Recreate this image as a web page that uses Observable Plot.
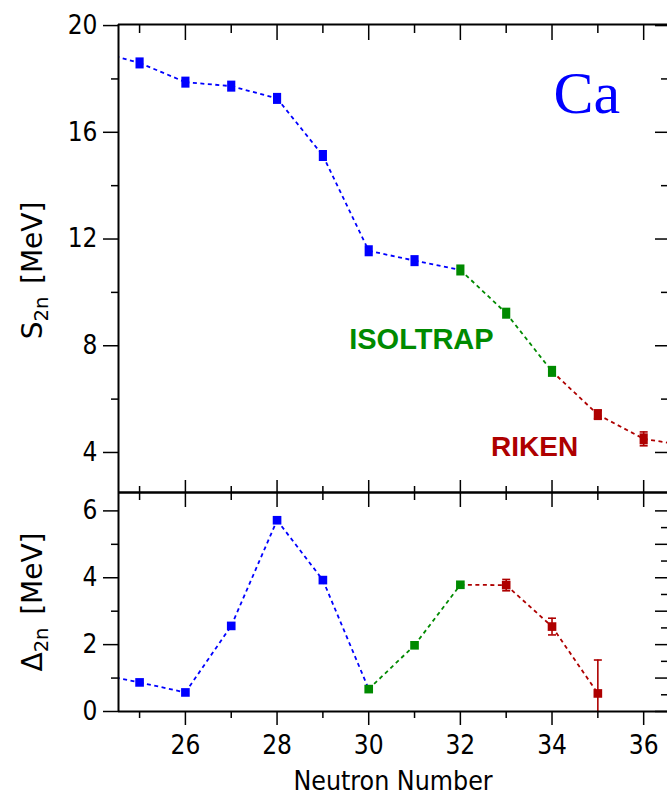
<!DOCTYPE html>
<html>
<head>
<meta charset="utf-8">
<script src="https://cdn.jsdelivr.net/npm/d3@7"></script>
<script src="https://cdn.jsdelivr.net/npm/@observablehq/plot@0.6"></script>
<style>
  html, body { margin: 0; padding: 0; background: #fff; }
  #chart { position: relative; width: 667px; height: 795px; overflow: hidden; }
  #chart svg { position: absolute; left: 0; overflow: visible; background: transparent; }
</style>
</head>
<body>
<div id="chart"></div>
<script>
// Two-neutron separation energies of the calcium isotopes (MeV)
const s2nN      = [24, 25, 26, 27, 28, 29, 30, 31, 32, 33, 34, 35, 36, 37];
const s2nValue  = [19.07, 18.60, 17.88, 17.73, 17.27, 15.13, 11.56, 11.19, 10.84, 9.22, 7.04, 5.42, 4.51, 4.24];
const s2nError  = [0, 0, 0, 0, 0, 0, 0, 0, 0, 0, 0, 0.15, 0.26, 1.0];
const s2nSource = ["AME", "AME", "AME", "AME", "AME", "AME", "AME", "AME",
                   "ISOLTRAP", "ISOLTRAP", "ISOLTRAP", "RIKEN", "RIKEN", "RIKEN"];

// Empirical shell gap  Δ2n(N) = S2n(N) - S2n(N+2)  (MeV)
const d2nN      = [24, 25, 26, 27, 28, 29, 30, 31, 32, 33, 34, 35];
const d2nValue  = [1.15, 0.87, 0.57, 2.56, 5.72, 3.93, 0.67, 1.98, 3.79, 3.78, 2.54, 0.54];
const d2nError  = [0, 0, 0, 0, 0, 0, 0, 0, 0, 0.17, 0.25, 1.0];
const d2nSource = ["AME", "AME", "AME", "AME", "AME", "AME",
                   "ISOLTRAP", "ISOLTRAP", "ISOLTRAP", "RIKEN", "RIKEN", "RIKEN"];

const sourceColor = {AME: "#0000ff", ISOLTRAP: "#008a00", RIKEN: "#ae0000"};

// Axis ticks
const xDomain       = [24.54, 36.52];
const xMajorTicks   = [26, 28, 30, 32, 34, 36];
const xMinorTicks   = [25, 27, 29, 31, 33, 35];
const s2nDomain     = [2.5, 20.04];
const s2nMajorTicks = [4, 8, 12, 16, 20];
const s2nMinorTicks = [6, 10, 14, 18];
const d2nDomain     = [0, 6.55];
const d2nMajorTicks = [0, 2, 4, 6];
const d2nMinorTicks = [1, 3, 5];
const d2nRightMajor = [0, 1, 2, 3, 4, 5, 6];
const d2nRightMinor = [0.5, 1.5, 2.5, 3.5, 4.5, 5.5];

// In-plot labels: facility names and the element
const labelText  = ["ISOLTRAP", "RIKEN", "Ca"];
const labelN     = [31.15, 33.62, 34.76];
const labelValue = [8.23, 4.19, 17.45];

const W = 667, marginLeft = 118, frameW = W - marginLeft;
const axisFont = "DejaVu Sans Condensed";
const titleFont = "DejaVu Sans";

function pointsOf(Ns, values, errors, sources) {
  return Ns.map((n, i) => ({N: n, v: values[i], e: errors[i], color: sourceColor[sources[i]]}));
}

// Consecutive points are joined by dashed segments; a segment touching a RIKEN
// point is red, one lying wholly within ISOLTRAP data is green, otherwise blue.
function segmentsOf(Ns, values, sources) {
  return d3.pairs(d3.range(Ns.length), (i, j) => {
    const a = sources[i], b = sources[j];
    const src = (a === "RIKEN" || b === "RIKEN") ? "RIKEN"
              : (a === "ISOLTRAP" && b === "ISOLTRAP") ? "ISOLTRAP" : "AME";
    return {x1: Ns[i], y1: values[i], x2: Ns[j], y2: values[j], color: sourceColor[src]};
  });
}

// Marker shapes
const tallSquare = {draw(ctx, size) {
  const r = Math.sqrt(size / Math.PI), w = r * 0.85, h = r * 1.15;
  ctx.rect(-w, -h, 2 * w, 2 * h);
}};
const square = {draw(ctx, size) {
  const r = Math.sqrt(size / Math.PI), w = r * 0.9;
  ctx.rect(-w, -w, 2 * w, 2 * w);
}};
const capLine = {draw(ctx, size) {
  const r = Math.sqrt(size / Math.PI);
  ctx.moveTo(-r, 0); ctx.lineTo(r, 0);
}};

function dataMarks(points, segments, symbol) {
  const withErr = points.filter(d => d.e > 0);
  return [
    Plot.link(segments, {x1: "x1", y1: "y1", x2: "x2", y2: "y2", stroke: "color",
      strokeWidth: 1.8, strokeDasharray: "4,3.5", clip: true}),
    Plot.ruleX(withErr, {x: "N", y1: d => d.v - d.e, y2: d => d.v + d.e, stroke: "color",
      strokeWidth: 1.6, clip: true}),
    Plot.dot(withErr, {x: "N", y: d => d.v + d.e, symbol: capLine, r: 4, stroke: "color",
      fill: "none", strokeWidth: 1.6, clip: true}),
    Plot.dot(withErr, {x: "N", y: d => d.v - d.e, symbol: capLine, r: 4, stroke: "color",
      fill: "none", strokeWidth: 1.6, clip: true}),
    Plot.dot(points, {x: "N", y: "v", symbol, r: 4.8, fill: "color", stroke: null, clip: true})
  ];
}

const tickStyle = {stroke: "black", strokeWidth: 1.5};

// ---- Upper panel: S2n ----
const topH = 493, topMarginTop = 24, topMarginBottom = 1;
const topFrameH = topH - topMarginTop - topMarginBottom;
const s2nPoints = pointsOf(s2nN, s2nValue, s2nError, s2nSource);
const labels = labelText.map((t, i) => ({text: t, N: labelN[i], v: labelValue[i]}));

const topPlot = Plot.plot({
  width: W, height: topH,
  marginTop: topMarginTop, marginBottom: topMarginBottom, marginLeft, marginRight: 0,
  x: {domain: xDomain, axis: null},
  y: {domain: s2nDomain},
  color: {type: "identity"},
  style: {fontFamily: axisFont, background: "transparent", overflow: "visible"},
  marks: [
    ...dataMarks(s2nPoints, segmentsOf(s2nN, s2nValue, s2nSource), tallSquare),
    Plot.text(labels.filter(d => d.text === "ISOLTRAP"), {x: "N", y: "v", text: "text",
      fill: sourceColor.ISOLTRAP, fontFamily: "Liberation Sans", fontWeight: "bold", fontSize: 29}),
    Plot.text(labels.filter(d => d.text === "RIKEN"), {x: "N", y: "v", text: "text",
      fill: sourceColor.RIKEN, fontFamily: "Liberation Sans", fontWeight: "bold", fontSize: 28}),
    Plot.text(labels.filter(d => d.text === "Ca"), {x: "N", y: "v", text: "text",
      fill: "#0000ff", fontFamily: "Liberation Serif", fontSize: 60}),
    // frame lines
    Plot.ruleY([s2nDomain[1]], {stroke: "black", strokeWidth: 2}),
    Plot.ruleY([s2nDomain[0]], {stroke: "black", strokeWidth: 2}),
    Plot.ruleX([xDomain[0]], {stroke: "black", strokeWidth: 2}),
    // top edge: inward ticks
    Plot.tickX(xMajorTicks, {x: d => d, insetBottom: topFrameH - 16, ...tickStyle}),
    Plot.tickX(xMinorTicks, {x: d => d, insetBottom: topFrameH - 9, ...tickStyle}),
    // bottom edge: inward ticks
    Plot.tickX(xMajorTicks, {x: d => d, insetTop: topFrameH - 12, ...tickStyle}),
    Plot.tickX(xMinorTicks, {x: d => d, insetTop: topFrameH - 6, ...tickStyle}),
    // left axis
    Plot.axisY(s2nMajorTicks, {anchor: "left", tickSize: 15, tickPadding: 6, fontSize: 26,
      fontFamily: axisFont, label: null, ...tickStyle}),
    Plot.axisY(s2nMinorTicks, {anchor: "left", tickSize: 7, tickFormat: () => "", label: null, ...tickStyle}),
    // right edge: inward ticks
    Plot.tickY(s2nMajorTicks, {y: d => d, insetLeft: frameW - 12, ...tickStyle}),
    Plot.tickY(s2nMinorTicks, {y: d => d, insetLeft: frameW - 6, ...tickStyle}),
    // axis title
    Plot.text(["S2n [MeV]"], {text: d => d, frameAnchor: "left", rotate: -90, dx: -85, dy: 12,
      fontSize: 28, fontFamily: titleFont, textAnchor: "middle"})
  ]
});

// ---- Lower panel: Δ2n ----
const botH = 313, botMarginTop = 10, botMarginBottom = 84;
const botFrameH = botH - botMarginTop - botMarginBottom;
const d2nPoints = pointsOf(d2nN, d2nValue, d2nError, d2nSource);

const bottomPlot = Plot.plot({
  width: W, height: botH,
  marginTop: botMarginTop, marginBottom: botMarginBottom, marginLeft, marginRight: 0,
  x: {domain: xDomain},
  y: {domain: d2nDomain},
  color: {type: "identity"},
  style: {fontFamily: axisFont, background: "transparent", overflow: "visible"},
  marks: [
    ...dataMarks(d2nPoints, segmentsOf(d2nN, d2nValue, d2nSource), square),
    Plot.ruleY([d2nDomain[1]], {stroke: "black", strokeWidth: 2}),
    Plot.ruleY([d2nDomain[0]], {stroke: "black", strokeWidth: 2}),
    Plot.ruleX([xDomain[0]], {stroke: "black", strokeWidth: 2}),
    // top edge: inward ticks
    Plot.tickX(xMajorTicks, {x: d => d, insetBottom: botFrameH - 15, ...tickStyle}),
    Plot.tickX(xMinorTicks, {x: d => d, insetBottom: botFrameH - 8, ...tickStyle}),
    // bottom axis
    Plot.axisX(xMajorTicks, {anchor: "bottom", tickSize: 14, tickPadding: 10, fontSize: 26,
      fontFamily: axisFont, label: null, ...tickStyle}),
    Plot.axisX(xMinorTicks, {anchor: "bottom", tickSize: 7, tickFormat: () => "", label: null, ...tickStyle}),
    // left axis
    Plot.axisY(d2nMajorTicks, {anchor: "left", tickSize: 15, tickPadding: 6, fontSize: 26,
      fontFamily: axisFont, label: null, ...tickStyle}),
    Plot.axisY(d2nMinorTicks, {anchor: "left", tickSize: 7, tickFormat: () => "", label: null, ...tickStyle}),
    // right edge: inward ticks
    Plot.tickY(d2nRightMajor, {y: d => d, insetLeft: frameW - 12, ...tickStyle}),
    Plot.tickY(d2nRightMinor, {y: d => d, insetLeft: frameW - 6, ...tickStyle}),
    // axis titles
    Plot.text(["Δ2n [MeV]"], {text: d => d, frameAnchor: "left", rotate: -90, dx: -85, dy: 0,
      fontSize: 28, fontFamily: titleFont, textAnchor: "middle"}),
    Plot.text(["Neutron Number"], {text: d => d, frameAnchor: "bottom", dy: 78,
      fontSize: 26.5, fontFamily: axisFont, textAnchor: "middle"})
  ]
});

// Render "2n" as a subscript in the y-axis titles
function subscript(svg, plain, head, sub, tail) {
  d3.select(svg).selectAll("text")
    .filter(function() { return this.textContent === plain; })
    .each(function() {
      const t = d3.select(this);
      t.text(null);
      t.append("tspan").text(head);
      t.append("tspan").attr("font-size", "0.7em").attr("dy", "0.3em").text(sub);
      t.append("tspan").attr("dy", "-0.21em").attr("dx", "0.45em").text(tail);
    });
}
subscript(topPlot, "S2n [MeV]", "S", "2n", "[MeV]");
subscript(bottomPlot, "Δ2n [MeV]", "Δ", "2n", "[MeV]");

const chart = document.getElementById("chart");
topPlot.style.top = "0px";
bottomPlot.style.top = (492 - botMarginTop) + "px";
chart.appendChild(topPlot);
chart.appendChild(bottomPlot);
</script>
</body>
</html>
